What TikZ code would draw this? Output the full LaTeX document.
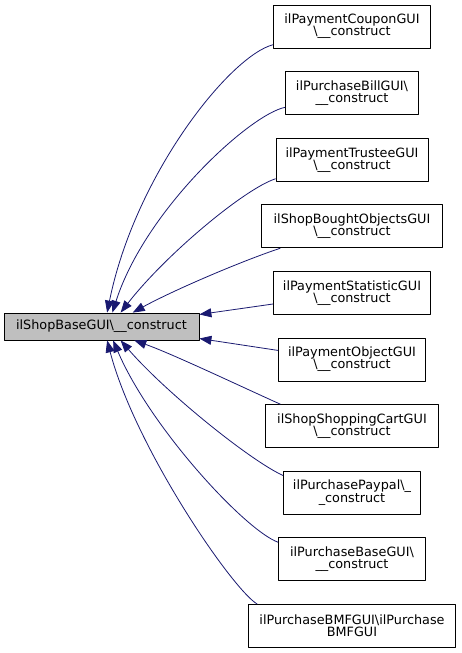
\documentclass[tikz,border=0pt]{standalone}
\usepackage{fontspec}
\setmainfont{DejaVu Sans}
\usetikzlibrary{arrows.meta}
\begin{document}
\begin{tikzpicture}[x=1pt, y=-1pt, font=\fontsize{12.8}{12}\selectfont, line join=round, >={Triangle[length=12pt,width=9pt]}]
	\definecolor{edgecolor}{HTML}{191970}
	\definecolor{maincolor}{HTML}{BFBFBF}
	\def\dy{66.6}
	\tikzset{
		box/.style={draw=black, line width=0.8pt, align=center, inner sep=0pt, minimum height=43pt},
		edge/.style={->, draw=edgecolor, line width=0.8pt},
	}
	\useasboundingbox (0,0) rectangle (461,653);
	\node[box, fill=maincolor, minimum width=195pt, minimum height=27pt] (main) at (101.5,326.5) {ilShopBaseGUI\textbackslash\_\_construct};
	\foreach \i/\w/\txt in {
		1/157/{ilPaymentCouponGUI\\\textbackslash\_\_construct},
		2/133/{ilPurchaseBillGUI\textbackslash\\\_\_construct},
		3/152/{ilPaymentTrusteeGUI\\\textbackslash\_\_construct},
		4/181/{ilShopBoughtObjectsGUI\\\textbackslash\_\_construct},
		5/157/{ilPaymentStatisticGUI\\\textbackslash\_\_construct},
		6/147/{ilPaymentObjectGUI\\\textbackslash\_\_construct},
		7/173/{ilShopShoppingCartGUI\\\textbackslash\_\_construct},
		8/137/{ilPurchasePaypal\textbackslash\_\\\_construct},
		9/147/{ilPurchaseBaseGUI\textbackslash\\\_\_construct},
		10/207/{ilPurchaseBMFGUI\textbackslash ilPurchase\\BMFGUI}} {
		\node[box, minimum width=\w pt] (c\i) at (352, 26.5+\dy*\i-\dy) {\txt};
	}
	% curved callers
	\foreach \i/\s/\e/\ax/\ay/\bx/\by in {
		1/193/68/-43/11/28/-138,
		2/192/52/-35/7/33/-103,
		3/194/36/-31/10/45/-58,
		4/197/24/-42/14/38/-21,
		7/163/337/-40/-18/37/13,
		8/166/324/-33/-15/45/52,
		9/167/310/-33/-12/37/87,
		10/167/292/-25/-15/28/107} {
		\draw[edge] (c\i.\s) .. controls +(\ax,\ay) and +(\bx,\by) .. (main.\e);
	}
	\draw[edge] (c5.188) -- (main.7);
	\draw[edge] (c6.173) -- (main.353);
\end{tikzpicture}
\end{document}
